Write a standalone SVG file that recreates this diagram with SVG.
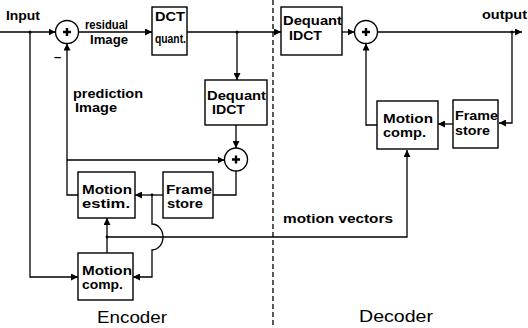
<svg xmlns="http://www.w3.org/2000/svg" width="528" height="328" viewBox="0 0 528 328">
<style>
.b{fill:#fff;stroke:#000;stroke-width:1.4}
.c{fill:none;stroke:#000;stroke-width:1.3}
.t{font-family:"Liberation Sans",Arial,sans-serif;font-weight:bold;font-size:13px;fill:#000}
.s{font-size:12px}
.n{font-family:"Liberation Sans",Arial,sans-serif;font-size:17px;fill:#000}
.p{stroke:#000;stroke-width:2.4}
</style>
<defs>
<marker id="a" viewBox="0 0 8 8" refX="8" refY="4" markerWidth="7" markerHeight="7" markerUnits="userSpaceOnUse" orient="auto">
<path d="M0,0 L8,4 L0,8 Z" fill="#000"/>
</marker>
</defs>
<rect width="528" height="328" fill="#fff"/>
<line x1="273" y1="0" x2="273" y2="328" stroke="#000" stroke-width="1.3" stroke-dasharray="5,3"/>
<g id="connectors" class="c">
<path d="M0,32 H55.5" marker-end="url(#a)"/>
<path d="M78.5,32 H152" marker-end="url(#a)"/>
<path d="M187,32 H281" marker-end="url(#a)"/>
<path d="M237,32 V80" marker-end="url(#a)"/>
<path d="M236,125 V148" marker-end="url(#a)"/>
<path d="M236,171 V195 H213"/>
<path d="M163,195 H135" marker-end="url(#a)"/>
<path d="M152,195 V224 A11,13 0 0 1 152,250 V277 H133" marker-end="url(#a)"/>
<path d="M30,32 V277 H78" marker-end="url(#a)"/>
<path d="M107,253 V218" marker-end="url(#a)"/>
<path d="M107,237 H407 V150" marker-end="url(#a)"/>
<path d="M78,195 H67 V43.5" marker-end="url(#a)"/>
<path d="M67,160 H224.5" marker-end="url(#a)"/>
<path d="M342,32 H354.5" marker-end="url(#a)"/>
<path d="M377.5,32 H522" marker-end="url(#a)"/>
<path d="M512,32 V123 H499" marker-end="url(#a)"/>
<path d="M453,124 H438" marker-end="url(#a)"/>
<path d="M377,125 H366 V43.5" marker-end="url(#a)"/>
</g>
<g id="junctions" fill="#000">
<circle cx="30" cy="32" r="1.6"/>
<circle cx="237" cy="32" r="1.6"/>
<circle cx="152" cy="195" r="1.4"/>
<circle cx="107" cy="237" r="1.4"/>
<circle cx="512" cy="32" r="1.6"/>
</g>
<g id="adder1">
<circle class="b" cx="67" cy="32" r="11.5"/>
<path class="p" d="M63,32 H71 M67,28 V36"/>
</g>
<g id="adder2">
<circle class="b" cx="236" cy="159.5" r="11.5"/>
<path class="p" d="M232,159.5 H240 M236,155.5 V163.5"/>
</g>
<g id="adder3">
<circle class="b" cx="366" cy="32" r="11.5"/>
<path class="p" d="M362,32 H370 M366,28 V36"/>
</g>
<g id="dct">
<rect class="b" x="152" y="7" width="35" height="48"/>
<text class="t" x="155" y="21" textLength="30" lengthAdjust="spacingAndGlyphs">DCT</text>
<text class="t s" x="155" y="43" textLength="31" lengthAdjust="spacingAndGlyphs">quant.</text>
</g>
<g id="enc-dequant">
<rect class="b" x="205" y="80" width="62" height="45"/>
<text class="t" x="207" y="100" textLength="59" lengthAdjust="spacingAndGlyphs">Dequant</text>
<text class="t" x="212" y="114" textLength="33" lengthAdjust="spacingAndGlyphs">IDCT</text>
</g>
<g id="motion-estim">
<rect class="b" x="78" y="172" width="57" height="46"/>
<text class="t" x="82" y="194" textLength="50" lengthAdjust="spacingAndGlyphs">Motion</text>
<text class="t" x="82" y="208" textLength="48" lengthAdjust="spacingAndGlyphs">estim.</text>
</g>
<g id="enc-frame-store">
<rect class="b" x="163" y="172" width="50" height="46"/>
<text class="t" x="166" y="194" textLength="46" lengthAdjust="spacingAndGlyphs">Frame</text>
<text class="t" x="167" y="208" textLength="36" lengthAdjust="spacingAndGlyphs">store</text>
</g>
<g id="enc-motion-comp">
<rect class="b" x="78" y="253" width="55" height="47"/>
<text class="t" x="82" y="275" textLength="50" lengthAdjust="spacingAndGlyphs">Motion</text>
<text class="t" x="82" y="289" textLength="41" lengthAdjust="spacingAndGlyphs">comp.</text>
</g>
<g id="dec-dequant">
<rect class="b" x="281" y="7" width="61" height="48"/>
<text class="t" x="283" y="25" textLength="59" lengthAdjust="spacingAndGlyphs">Dequant</text>
<text class="t" x="289" y="40" textLength="33" lengthAdjust="spacingAndGlyphs">IDCT</text>
</g>
<g id="dec-motion-comp">
<rect class="b" x="377" y="101" width="61" height="48"/>
<text class="t" x="383" y="123" textLength="50" lengthAdjust="spacingAndGlyphs">Motion</text>
<text class="t" x="383" y="137" textLength="43" lengthAdjust="spacingAndGlyphs">comp.</text>
</g>
<g id="dec-frame-store">
<rect class="b" x="453" y="100" width="45" height="48"/>
<text class="t" x="455" y="120" textLength="43" lengthAdjust="spacingAndGlyphs">Frame</text>
<text class="t" x="455" y="135" textLength="35" lengthAdjust="spacingAndGlyphs">store</text>
</g>
<g id="labels">
<text class="t" x="6" y="20" textLength="34" lengthAdjust="spacingAndGlyphs">Input</text>
<text class="t s" x="85" y="29" textLength="43" lengthAdjust="spacingAndGlyphs">residual</text>
<text class="t s" x="90" y="44" textLength="38" lengthAdjust="spacingAndGlyphs">Image</text>
<text class="t" x="54" y="61">–</text>
<text class="t" x="73" y="98" textLength="70" lengthAdjust="spacingAndGlyphs">prediction</text>
<text class="t" x="75" y="112" textLength="42" lengthAdjust="spacingAndGlyphs">Image</text>
<text class="t" x="482" y="19" textLength="45" lengthAdjust="spacingAndGlyphs">output</text>
<text class="t" x="283" y="223" textLength="110" lengthAdjust="spacingAndGlyphs">motion vectors</text>
<text class="n" x="97" y="323" textLength="70" lengthAdjust="spacingAndGlyphs">Encoder</text>
<text class="n" x="359" y="322" textLength="74" lengthAdjust="spacingAndGlyphs">Decoder</text>
</g>
</svg>
